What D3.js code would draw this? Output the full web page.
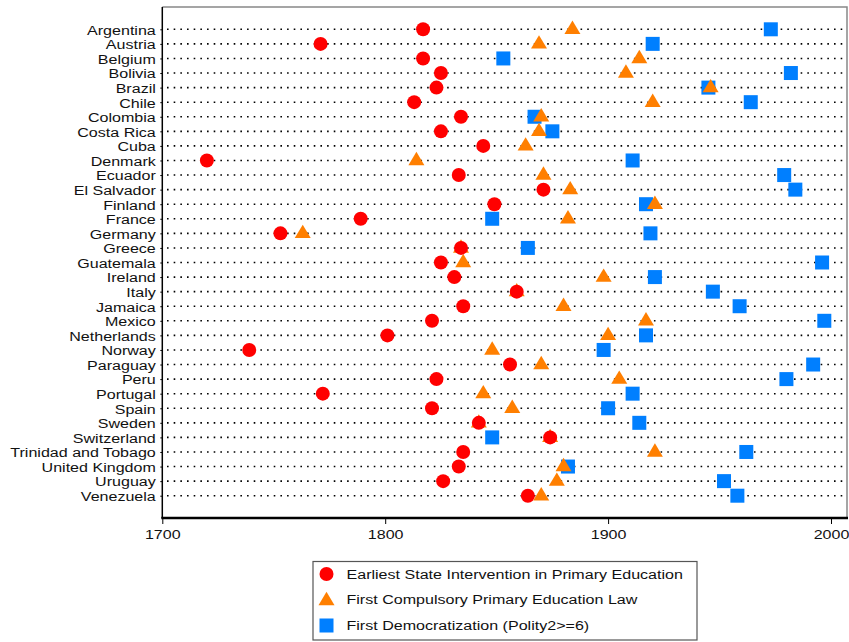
<!DOCTYPE html>
<html><head><meta charset="utf-8">
<script src="https://cdn.jsdelivr.net/npm/d3@7"></script>
<style>body{margin:0;background:#fff}svg{display:block}text{font-family:"Liberation Sans",Arial,sans-serif}</style>
</head><body><svg id="c" width="849" height="642"></svg>
<script>
const countries = ["Argentina","Austria","Belgium","Bolivia","Brazil","Chile","Colombia","Costa Rica","Cuba","Denmark","Ecuador","El Salvador","Finland","France","Germany","Greece","Guatemala","Ireland","Italy","Jamaica","Mexico","Netherlands","Norway","Paraguay","Peru","Portugal","Spain","Sweden","Switzerland","Trinidad and Tobago","United Kingdom","Uruguay","Venezuela"];
const stateIntervention = [1817,1771,1817,1825,1823,1813,1834,1825,1844,1720,1833,1871,1849,1789,1753,1834,1825,1831,1859,1835,1821,1801,1739,1856,1823,1772,1821,1842,1874,1835,1833,1826,1864];
const compulsoryLaw = [1884,1869,1914,1908,1946,1920,1870,1869,1863,1814,1871,1883,1921,1882,1763,1834,1835,1898,1859,1880,1917,1900,1848,1870,1905,1844,1857,1842,1874,1921,1880,1877,1870];
const democratization = [1973,1920,1853,1982,1945,1964,1867,1875,null,1911,1979,1984,1917,1848,1919,1864,1996,1921,1947,1959,1997,1917,1898,1992,1980,1911,1900,1914,1848,1962,1882,1952,1958];
const xTicks = [1700,1800,1900,2000];
const seriesNames = ["Earliest State Intervention in Primary Education","First Compulsory Primary Education Law","First Democratization (Polity2>=6)"];
const colors = ["#ff0000","#ff7f00","#007fff"];

const FS = 13.5, SX = 1.19;
const svg = d3.select("#c");
const L = 162.3, R = 847, T = 7, B = 518;
const x = d3.scaleLinear().domain([1700,2000]).range([162.3,831]);
const y = d3.scalePoint().domain(countries).range([29.3,495.7]);

svg.append("path").attr("d",`M${L},${T}H${R}V${B}`).attr("fill","none").attr("stroke","#888").attr("stroke-width",1.5);

svg.append("g").selectAll("line").data(countries).join("line")
  .attr("x1",167).attr("x2",845).attr("y1",d=>y(d)).attr("y2",d=>y(d))
  .attr("stroke","#000").attr("stroke-width",1.6).attr("stroke-dasharray","1.6,5.07");

const ya = svg.append("g").attr("transform",`translate(${L},0)`).call(d3.axisLeft(y).tickSize(2).tickPadding(4.5));
ya.select(".domain").remove();
ya.append("line").attr("x1",0).attr("x2",0).attr("y1",T).attr("y2",B).attr("stroke","#000").attr("stroke-width",1.5);
ya.selectAll(".tick text").attr("font-size",FS).attr("fill","#111").attr("dy","0.36em")
  .attr("x",-6.5/SX).attr("transform",`scale(${SX},1)`);

const xa = svg.append("g").attr("transform",`translate(0,${B})`).call(d3.axisBottom(x).tickValues(xTicks).tickFormat(d3.format("d")).tickSize(6).tickPadding(5));
xa.select(".domain").remove();
xa.append("line").attr("x1",L-1).attr("x2",R+1).attr("y1",0).attr("y2",0).attr("stroke","#000").attr("stroke-width",2.5);
xa.selectAll(".tick text").attr("font-size",FS).attr("fill","#111").attr("transform",`scale(${SX},1)`);

const tri = "M0,-8.7L8,4.7L-8,4.7Z";
const sq = countries.map((c,i)=>({c,v:democratization[i]})).filter(d=>d.v!=null);
svg.append("g").selectAll("rect").data(sq).join("rect")
  .attr("x",d=>x(d.v)-7).attr("y",d=>y(d.c)-7).attr("width",14).attr("height",14).attr("fill",colors[2]);
svg.append("g").selectAll("path").data(countries.map((c,i)=>({c,v:compulsoryLaw[i]}))).join("path")
  .attr("d",tri).attr("transform",d=>`translate(${x(d.v)},${y(d.c)})`).attr("fill",colors[1]);
svg.append("g").selectAll("circle").data(countries.map((c,i)=>({c,v:stateIntervention[i]}))).join("circle")
  .attr("cx",d=>x(d.v)).attr("cy",d=>y(d.c)).attr("r",7).attr("fill",colors[0]);

const lg = svg.append("g");
lg.append("rect").attr("x",313).attr("y",561.5).attr("width",384).attr("height",78.5).attr("fill","#fff").attr("stroke","#555").attr("stroke-width",1.2);
const ly = [574,599.5,625];
lg.append("circle").attr("cx",326.5).attr("cy",ly[0]).attr("r",7).attr("fill",colors[0]);
lg.append("path").attr("d",tri).attr("transform",`translate(326.5,${ly[1]+1})`).attr("fill",colors[1]);
lg.append("rect").attr("x",319.5).attr("y",ly[2]-6.5).attr("width",14).attr("height",14).attr("fill",colors[2]);
lg.selectAll("text.l").data(seriesNames).join("text").attr("class","l")
  .attr("x",346.5/SX).attr("y",(d,i)=>ly[i]).attr("dy","0.36em").attr("font-size",FS).attr("fill","#111")
  .attr("transform",`scale(${SX},1)`).text(d=>d);
</script></body></html>
